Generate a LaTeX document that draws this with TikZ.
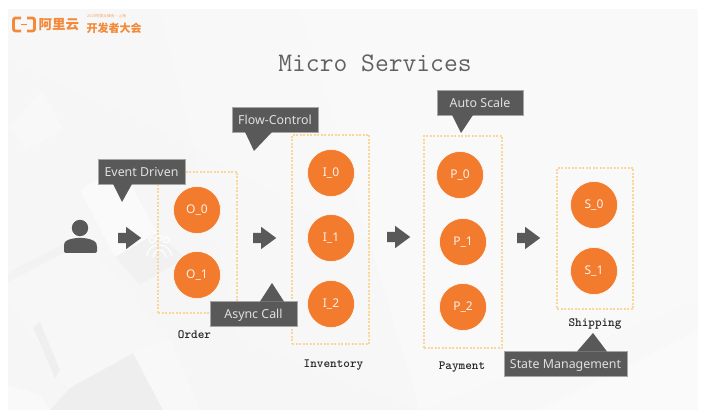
\documentclass[tikz,border=0pt]{standalone}
\usepackage{fontspec}
\setmainfont{Noto Sans}
\newfontfamily\cjkfont{Noto Sans CJK SC}
\usetikzlibrary{shapes.arrows,calc}
\definecolor{accent}{HTML}{F27B2E}
\definecolor{tagbg}{HTML}{595959}
\definecolor{dashc}{HTML}{FAD798}
\definecolor{logoc}{HTML}{F28A3A}
\tikzset{
  svc/.style={circle,fill=accent,draw=white,line width=.5pt,minimum size=47pt,inner sep=0pt,text=white!90!accent,font=\fontsize{12}{14}\selectfont},
  group/.style={draw=dashc,line width=1.1pt,dash pattern=on 2pt off 1.5pt,inner sep=0pt},
  tag/.style={fill=tagbg,draw=black!35,line width=.4pt,text=white!88!black,inner sep=0pt,text height=10.5pt,text depth=1pt,font=\fontsize{12.4}{14}\selectfont},
  tagtip/.style={fill=tagbg},
  flow/.style={single arrow,fill=tagbg,anchor=tail,inner sep=5pt,minimum height=23pt,minimum width=22pt,single arrow head extend=6pt,single arrow tip angle=73},
  lbl/.style={font=\ttfamily\bfseries\fontsize{12.6}{14}\selectfont,text=black!85,inner sep=0pt},
  bright/.style={white,opacity=.3},
  dim/.style={black,opacity=.015}
}
\begin{document}
\begin{tikzpicture}[x=1pt,y=-1pt]
\useasboundingbox (0,0) rectangle (703,419);
\fill[white] (0,0) rectangle (703,419);
% slide background
\fill[black!3.5] (8,9) rectangle (698,410);
\fill[white,opacity=.12] (8,9) -- (698,9) -- (698,70) -- (360,240) -- (160,130) -- (8,60) -- cycle;
\fill[white,opacity=.2] (160,9) -- (698,9) -- (698,300) -- (420,410) -- (240,340) -- cycle;
\fill[white,opacity=.25] (300,9) -- (698,9) -- (698,410) -- (420,410) -- cycle;
\fill[bright] (10,127) -- (42,90) -- (63,130) -- (25,150) -- cycle;
\fill[white,opacity=.5] (80,190) -- (120,165) -- (157,233) -- (115,257) -- cycle;
\fill[black,opacity=.018] (115,257) -- (157,233) -- (185,258) -- (140,285) -- cycle;
\fill[white,opacity=.2] (8,273) -- (90,245) -- (167,340) -- (68,388) -- (8,300) -- cycle;
\fill[dim] (8,273) -- (80,235) -- (84,243) -- (8,282) -- cycle;
\fill[black,opacity=.03] (33,327) -- (40,322) -- (60,370) -- (55,378) -- cycle;
\fill[black,opacity=.03] (50,410) -- (70,388) -- (133,353) -- (163,410) -- cycle;
\fill[white,opacity=.35] (8,410) -- (8,385) -- (40,395) -- (50,410) -- cycle;
\fill[white,opacity=.3] (133,353) -- (170,340) -- (200,410) -- (163,410) -- cycle;
\fill[white,opacity=.3] (540,410) -- (698,330) -- (698,410) -- cycle;
% logo
\draw[logoc,line width=2.8pt,line join=round,rounded corners=2pt] (21,18) -- (13.5,18) -- (13.5,31) -- (21,31);
\draw[logoc,line width=2.8pt,line join=round,rounded corners=2pt] (27,18) -- (34.5,18) -- (34.5,31) -- (27,31);
\fill[logoc] (21,23.7) rectangle (27,25.3);
\node[anchor=west,inner sep=0pt,text=logoc] (brand) at (38.5,24.5) {\cjkfont\bfseries\fontsize{13.5}{14}\selectfont 阿里云};
\node[anchor=west,inner sep=0pt,text=logoc!75] (event) at (87,16.5) {\cjkfont\fontsize{3.8}{4}\selectfont 2019阿里云峰会·上海};
\node[anchor=west,inner sep=0pt,text=logoc] (conf) at (86.5,28) {\cjkfont\bfseries\fontsize{11}{12}\selectfont 开发者大会};
% title
\node[inner sep=0pt,text=black!62] (title) at (375,63) {\ttfamily\fontsize{26.8}{30}\selectfont Micro Services};
% white mark
\begin{scope}[white,line width=1.1pt,line cap=round]
\draw (152,240) circle (2.8);
\draw (159,238) circle (2.8);
\draw (166,240) circle (2.8);
\draw (147,256) .. controls (148,248) and (153,245) .. (159,245) .. controls (165,245) and (170,248) .. (172,256);
\draw (153,257) .. controls (154,252) and (156,250) .. (159,250) .. controls (162,250) and (165,252) .. (166,257);
\end{scope}
% groups
\node[group,minimum width=79pt,minimum height=141pt] (gO) at (197.5,242.5) {};
\node[group,minimum width=77pt,minimum height=209pt] (gI) at (330.5,239.5) {};
\node[group,minimum width=78pt,minimum height=212pt] (gP) at (463,242) {};
\node[group,minimum width=76pt,minimum height=141pt] (gS) at (595,238.5) {};
% services
\node[svc] (o0) at (197,210) {O\_0};
\node[svc] (o1) at (197,275) {O\_1};
\node[svc] (i0) at (331,173) {I\_0};
\node[svc] (i1) at (331,238) {I\_1};
\node[svc] (i2) at (331,304) {I\_2};
\node[svc] (p0) at (460,175) {P\_0};
\node[svc] (p1) at (463,242) {P\_1};
\node[svc] (p2) at (463,307) {P\_2};
\node[svc] (s0) at (594,205) {S\_0};
\node[svc] (s1) at (594,271) {S\_1};
% labels
\node[lbl] (lO) at (194.5,334.5) {Order};
\node[lbl] (lI) at (333.5,365) {Inventory};
\node[lbl] (lP) at (462,367) {Payment};
\node[lbl] (lS) at (595,323.5) {Shipping};
% user icon
\fill[tagbg] (80,228) circle (8.2);
\fill[tagbg,rounded corners=2pt] (64,253) -- (64,245) .. controls (65,240) and (73,238) .. (80,238) .. controls (87,238) and (95,240) .. (97,245) -- (97,253) -- cycle;
% flow arrows
\node[flow] (a1) at (118,238) {};
\node[flow] (a2) at (253,238) {};
\node[flow] (a3) at (387,237) {};
\node[flow] (a4) at (517,238) {};
% tags
\node[tag,minimum width=87pt,minimum height=25pt] (tEvent) at (141.5,171.5) {Event Driven};
\fill[tagtip] (113,184) -- (122,202) -- (132,184) -- cycle;
\node[tag,minimum width=87pt,minimum height=25pt] (tAsync) at (253.5,313.5) {Async Call};
\fill[tagtip] (260,301.5) -- (272,283) -- (284,301.5) -- cycle;
\node[tag,minimum width=86pt,minimum height=25pt] (tFlow) at (275,119.5) {Flow-Control};
\fill[tagtip] (245,132) -- (254,151) -- (272,132) -- cycle;
\node[tag,minimum width=86pt,minimum height=25pt] (tScale) at (480,102.5) {Auto Scale};
\fill[tagtip] (452,115) -- (461,133) -- (473,115) -- cycle;
\node[tag,minimum width=123pt,minimum height=25pt] (tState) at (565.5,363.5) {State Management};
\fill[tagtip] (577,351.5) -- (593,333) -- (607,351.5) -- cycle;
\end{tikzpicture}
\end{document}
